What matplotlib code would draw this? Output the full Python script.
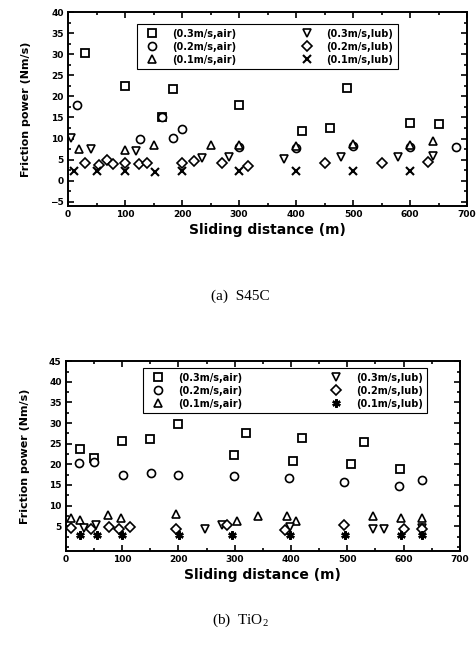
import numpy as np
import matplotlib
matplotlib.use('Agg')
from matplotlib import pyplot as plt
from matplotlib.ticker import MultipleLocator

plt.rcParams['font.family'] = ['DejaVu Sans']
plt.rcParams['mathtext.fontset'] = 'custom'
plt.rcParams['mathtext.rm'] = 'Liberation Serif'

labels = ['(0.3m/s,air)', '(0.2m/s,air)', '(0.1m/s,air)',
          '(0.3m/s,lub)', '(0.2m/s,lub)', '(0.1m/s,lub)']

# (a) S45C
a_x_03air = [30, 100, 165, 185, 300, 410, 460, 490, 600, 650]
a_y_03air = [30.3, 22.5, 15.0, 21.7, 18.0, 11.9, 12.6, 22.0, 13.8, 13.5]
a_x_02air = [15, 126, 165, 184, 200, 300, 400, 500, 600, 680]
a_y_02air = [18.0, 9.8, 15.0, 10.2, 12.2, 8.0, 7.8, 8.2, 8.0, 8.0]
a_x_01air = [20, 100, 150, 250, 300, 400, 500, 600, 640]
a_y_01air = [7.6, 7.4, 8.5, 8.4, 8.4, 8.2, 8.6, 8.4, 9.4]
a_x_03lub = [5, 40, 119, 235, 282, 379, 479, 579, 641]
a_y_03lub = [10.2, 7.6, 7.0, 5.5, 5.7, 5.2, 5.7, 5.7, 5.9]
a_x_02lub = [30, 55, 68, 79, 100, 125, 138, 200, 221, 271, 315, 450, 550, 631]
a_y_02lub = [4.3, 3.7, 4.9, 3.9, 4.3, 3.9, 4.3, 4.3, 4.7, 4.3, 3.5, 4.3, 4.3, 4.5]
a_x_01lub = [10, 50, 100, 153, 200, 300, 400, 500, 600]
a_y_01lub = [2.3, 2.3, 2.3, 2.1, 2.4, 2.4, 2.3, 2.3, 2.3]

# (b) TiO2
b_x_03air = [25, 50, 100, 150, 200, 298, 320, 404, 420, 507, 530, 593]
b_y_03air = [23.6, 21.6, 25.6, 26.2, 29.8, 22.3, 27.5, 20.7, 26.5, 20.0, 25.5, 18.8]
b_x_02air = [23, 50, 102, 151, 199, 298, 397, 495, 592, 632]
b_y_02air = [20.3, 20.6, 17.5, 17.8, 17.4, 17.2, 16.8, 15.8, 14.7, 16.3]
b_x_01air = [10, 25, 75, 98, 195, 304, 342, 393, 409, 546, 595, 633]
b_y_01air = [7.0, 6.6, 7.7, 6.9, 7.9, 6.2, 7.4, 7.4, 6.2, 7.4, 6.9, 7.0]
b_x_03lub = [32, 54, 248, 278, 399, 546, 565, 633]
b_y_03lub = [4.6, 5.2, 4.4, 5.2, 4.8, 4.2, 4.4, 4.6]
b_x_02lub = [10, 45, 77, 95, 114, 195, 286, 389, 495, 601, 633]
b_y_02lub = [4.6, 4.4, 4.8, 4.4, 4.8, 4.4, 5.2, 4.0, 5.4, 4.2, 4.4]
b_x_01lub = [26, 55, 100, 201, 295, 398, 496, 595, 633]
b_y_01lub = [2.8, 2.8, 2.8, 2.8, 2.8, 2.8, 2.8, 2.8, 2.8]


def draw(ax, xs, ys, lub_last):
    styles = [dict(marker='s', ms=5.3, mew=1.3), dict(marker='o', ms=5.8, mew=1.2),
              dict(marker='^', ms=6.3, mew=1.2), dict(marker='v', ms=6.3, mew=1.2),
              dict(marker='D', ms=4.6, mew=1.2), lub_last]
    handles = []
    for (x, y), st, lab in zip(zip(xs, ys), styles, labels):
        h, = ax.plot(x, y, ls='none', mfc='white', mec='black',
                     color='black', label=lab, **st)
        handles.append(h)
    return handles


def style(ax, ylim, ymaj):
    ax.set_xlim(0, 700)
    ax.set_ylim(*ylim)
    ax.set_yticks(ymaj)
    ax.xaxis.set_major_locator(MultipleLocator(100))
    ax.xaxis.set_minor_locator(MultipleLocator(50))
    ax.yaxis.set_minor_locator(MultipleLocator(2.5))
    ax.tick_params(which='both', direction='in', top=True, right=True,
                   labelsize=6.5, width=1.2, pad=3)
    ax.tick_params(which='major', length=4)
    ax.tick_params(which='minor', length=2)
    for lab in ax.get_xticklabels() + ax.get_yticklabels():
        lab.set_fontweight('bold')
    for sp in ax.spines.values():
        sp.set_linewidth(1.4)
    ax.set_xlabel('Sliding distance (m)', fontsize=10, fontweight='bold',
                  labelpad=3)
    ax.set_ylabel('Friction power (Nm/s)', fontsize=8, fontweight='bold',
                  labelpad=14)


def legend(ax, handles, box):
    leg = ax.legend(handles=handles, ncol=2, loc='center',
                    bbox_to_anchor=box, mode='expand',
                    prop=dict(size=7, weight='bold'), fancybox=False,
                    edgecolor='black', framealpha=1, handletextpad=0.9,
                    columnspacing=1.0, labelspacing=0.3, borderpad=0.5,
                    handlelength=2.2)
    leg.get_frame().set_linewidth(0.8)
    return leg


fig = plt.figure(figsize=(4.77, 6.52), dpi=100)

ax1 = fig.add_axes([0.1426, 0.684, 0.8365, 0.2975])
h1 = draw(ax1,
          [a_x_03air, a_x_02air, a_x_01air, a_x_03lub, a_x_02lub, a_x_01lub],
          [a_y_03air, a_y_02air, a_y_01air, a_y_03lub, a_y_02lub, a_y_01lub],
          dict(marker='x', ms=6, mew=1.5))
style(ax1, (-6, 40), np.arange(-5, 41, 5))
legend(ax1, h1, (0.16, 0.68, 0.68, 0.284))
fig.text(0.503, 0.545, '(a)  S45C', ha='center', va='center', fontsize=11,
         family='Liberation Serif')

ax2 = fig.add_axes([0.138, 0.155, 0.826, 0.291])
h2 = draw(ax2,
          [b_x_03air, b_x_02air, b_x_01air, b_x_03lub, b_x_02lub, b_x_01lub],
          [b_y_03air, b_y_02air, b_y_01air, b_y_03lub, b_y_02lub, b_y_01lub],
          dict(marker=(6, 2, 0), ms=6, mew=1.7))
style(ax2, (-1, 45), np.arange(5, 46, 5))
legend(ax2, h2, (0.183, 0.70, 0.747, 0.29))
fig.text(0.503, 0.049, '(b)  TiO$_\\mathrm{2}$', ha='center', va='center',
         fontsize=11, family='Liberation Serif')

fig.savefig('out.png', dpi=100)
